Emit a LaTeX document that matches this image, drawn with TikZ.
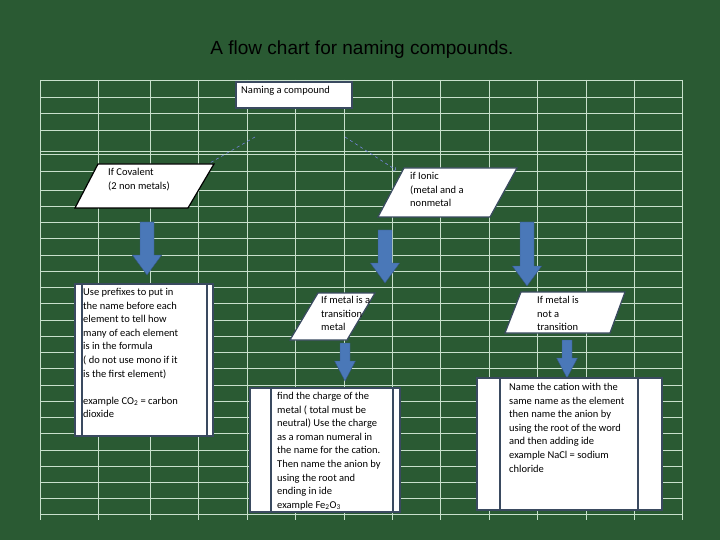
\documentclass[tikz,border=0pt]{standalone}
\usepackage{fontspec}
\setmainfont{Carlito}
\newfontfamily\titlefont{Liberation Sans}
\definecolor{bg}{HTML}{2A5A33}
\definecolor{gridc}{HTML}{C8E0CC}
\definecolor{blk}{HTML}{4A78B8}
\definecolor{edge}{HTML}{3A4A60}
\newcommand\blockarrow[4]{% x, ytop, ybot, half-shaft
  \fill[blk,draw=blk!70!black,line width=0.4pt] (#1-#4,#2) -- (#1+#4,#2) -- (#1+#4,#3-20) -- (#1+2.1*#4,#3-20) -- (#1,#3) -- (#1-2.1*#4,#3-20) -- (#1-#4,#3-20) -- cycle;}
\begin{document}
\begin{tikzpicture}[x=1pt,y=-1pt,
  box/.style={fill=white,draw=edge,line width=1.2pt},
  txt/.style={font=\fontsize{10.5}{13.6}\selectfont,align=left,anchor=north west,inner sep=0pt,text=black}]
\useasboundingbox (0,0) rectangle (720,540);
\fill[bg] (0,0) rectangle (720,540);
% grid
\foreach \y in {80,97,113,130,151,154,171,190,206,222,238,255,271,287,303,320,336,352,368,385,401,417,433,450,466,482,498,514}
  \draw[gridc,line width=0.5pt] (40,\y) -- (682,\y);
\foreach \x in {40,98,150,198,247,295,344,392,440,489,537,586,634,682}
  \draw[gridc,line width=0.5pt] (\x,80) -- (\x,520);
\node[font=\titlefont\fontsize{19}{23}\selectfont,text=black] (title) at (362,50) {A flow chart for naming compounds.};
% top box
\draw[box] (236,82) rectangle (352,108);
\node[txt] (top) at (241,86) {Naming a compound};
\coordinate (tl) at (255,137); \coordinate (tr) at (345,137);
\coordinate (cl) at (196,171); \coordinate (ir) at (396,170);
\draw[gridc!60!blue,dashed,->,line width=0.6pt] (tl) -- (cl);
\draw[gridc!60!blue,dashed,->,line width=0.6pt] (tr) -- (ir);
% covalent
\draw[box,draw=black] (98,164) -- (214,164) -- (188,208) -- (75,208) -- cycle;
\node[txt] (cov) at (108,168) {If Covalent\\(2 non metals)};
% ionic
\draw[box] (404,168) -- (517,168) -- (490,217) -- (378,217) -- cycle;
\node[txt] (ion) at (410,172) {if Ionic\\(metal and a\\nonmetal};
% arrows
\blockarrow{147}{222}{275}{7}
\blockarrow{385}{230}{283}{7}
\blockarrow{527}{222}{286}{7}
\blockarrow{345}{343}{381}{5}
\blockarrow{567}{340}{378}{5}
% left process
\draw[box] (75,284) rectangle (213,436);
\draw[edge,line width=1.2pt] (82,284) -- (82,436) (207,284) -- (207,436);
\node[txt] (cov2) at (83,288) {Use prefixes to put in\\the name before each\\element to tell how\\many of each element\\is in the formula\\( do not use mono if it\\is the first element)\\[13.6pt]example CO\textsubscript{2} = carbon\\dioxide};
% transition
\draw[box] (318,293) -- (375,293) -- (347,340) -- (290,340) -- cycle;
\node[txt] (tr1) at (321,296) {If metal is a\\transition\\metal};
% not transition
\draw[box] (521,292) -- (625,292) -- (610,333) -- (505,333) -- cycle;
\node[txt] (nt) at (537,296) {If metal is\\not a\\transition};
% middle process
\draw[box] (250,388) rectangle (400,512);
\draw[edge,line width=1.2pt] (271,388) -- (271,512) (393,388) -- (393,512);
\node[txt] (mid) at (277,392) {find the charge of the\\metal ( total must be\\neutral) Use the charge\\as a roman numeral in\\the name for the cation.\\Then name the anion by\\using the root and\\ending in ide\\example Fe\textsubscript{2}O\textsubscript{3}};
% right process
\draw[box] (477,378) rectangle (662,510);
\draw[edge,line width=1.2pt] (500,378) -- (500,510) (638,378) -- (638,510);
\node[txt] (rt) at (509,383) {Name the cation with the\\same name as the element\\then name the anion by\\using the root of the word\\and then adding ide\\example NaCl = sodium\\chloride};
\end{tikzpicture}
\end{document}
